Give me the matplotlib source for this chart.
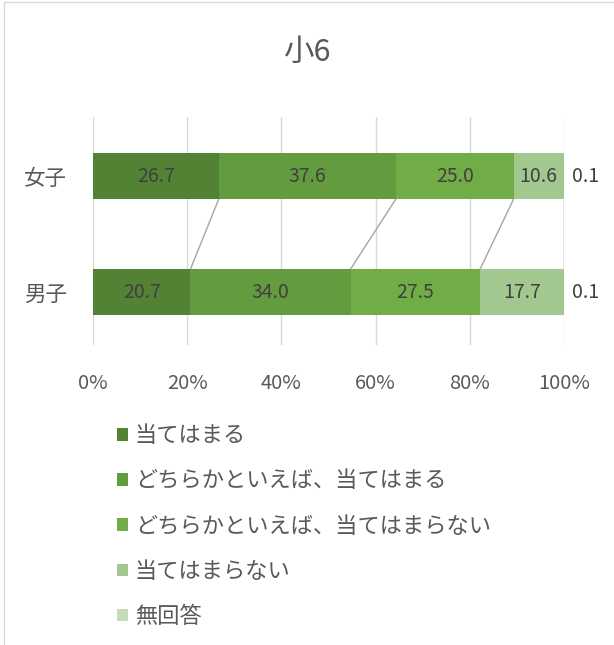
import matplotlib.pyplot as plt
from matplotlib.patches import Rectangle, Patch

plt.rcParams['font.family'] = ['Noto Sans CJK JP', 'DejaVu Sans']

# Data
title = "小6"
groups = ["女子", "男子"]
answers = ["当てはまる", "どちらかといえば、当てはまる", "どちらかといえば、当てはまらない",
           "当てはまらない", "無回答"]
girls = [26.7, 37.6, 25.0, 10.6, 0.1]
boys = [20.7, 34.0, 27.5, 17.7, 0.1]
colors = ["#548235", "#639C3F", "#70AD47", "#A2C78F", "#C5DBBA"]

TEXT = "#595959"
VALUE = "#404040"

fig = plt.figure(figsize=(6.14, 6.45), dpi=100)
ax = fig.add_axes([93 / 614, 1 - 345 / 645, 471 / 614, 228 / 645])

ypos = [1, 0]
h = 0.397
rows = [girls, boys]

for gi, vals in enumerate(rows):
    left = 0
    for si, v in enumerate(vals):
        ax.barh(ypos[gi], v, left=left, height=h, color=colors[si], zorder=3)
        if si < 4:
            ax.text(left + v / 2, ypos[gi], f"{v:.1f}", ha="center", va="center",
                    fontsize=14, color=VALUE, zorder=4)
        else:
            ax.text(left + v + 1.7, ypos[gi], f"{v:.1f}", ha="left", va="center",
                    fontsize=14, color=VALUE, zorder=4)
        left += v

# series lines between the two bars
cg, cb = 0, 0
for si in range(4):
    cg += girls[si]
    cb += boys[si]
    ax.plot([cg, cb], [ypos[0] - h / 2, ypos[1] + h / 2], color="#A5A5A5", lw=1, zorder=2)

ax.set_xlim(0, 100)
ax.set_ylim(-0.457, 1.509)
ax.set_xticks(range(0, 101, 20))
ax.set_xticklabels([f"{t}%" for t in range(0, 101, 20)])
ax.set_yticks(ypos)
ax.set_yticklabels(groups)
ax.tick_params(axis="x", length=0, pad=20, labelsize=14.5, labelcolor=TEXT)
ax.tick_params(axis="y", length=0, pad=19, labelsize=15.5, labelcolor=TEXT)
ax.grid(axis="x", color="#D9D9D9", lw=1, zorder=0)
for s in ax.spines.values():
    s.set_visible(False)

fig.text(0.5, 1 - 52 / 645, title, ha="center", va="center", fontsize=22, color=TEXT)

handles = [Patch(facecolor=c, edgecolor="none") for c in colors]
fig.legend(handles, answers, loc="upper left", bbox_to_anchor=(106 / 614, 1 - 413 / 645),
           frameon=False, fontsize=16, labelcolor=TEXT, handlelength=0.5, handleheight=0.5,
           handletextpad=0.3, labelspacing=1.0, borderpad=0)

# chart frame
fig.add_artist(Rectangle((4 / 614, -0.01), 1.0, 1 - 2 / 645 + 0.01, transform=fig.transFigure,
                         fill=False, edgecolor="#D9D9D9", lw=1))

fig.savefig("out.png", dpi=100)
